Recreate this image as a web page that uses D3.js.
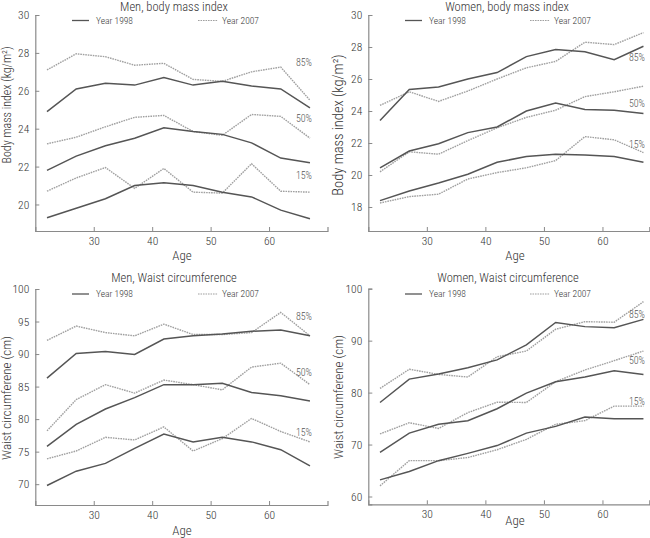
<!DOCTYPE html>
<html>
<head>
<meta charset="utf-8">
<script src="https://cdn.jsdelivr.net/npm/d3@7"></script>
<style>
  html, body { margin: 0; padding: 0; background: #fff; }
  svg { display: block; font-family: Roboto, "Liberation Sans", sans-serif; font-stretch: 80%; font-weight: 300; }
</style>
</head>
<body>
<svg id="chart" width="650" height="538"></svg>
<script>
// ---------- DATA ----------
const ages = [22, 27, 32, 37, 42, 47, 52, 57, 62, 67];
const percentileLabels = ["85%", "50%", "15%"];
const yearLabels = ["Year 1998", "Year 2007"];

// Men, body mass index
const menBmi1998P85 = [24.9, 26.1, 26.4, 26.3, 26.7, 26.3, 26.5, 26.25, 26.1, 25.1];
const menBmi2007P85 = [27.1, 27.95, 27.8, 27.35, 27.45, 26.6, 26.5, 27.0, 27.25, 25.5];
const menBmi1998P50 = [21.8, 22.55, 23.1, 23.5, 24.05, 23.85, 23.7, 23.25, 22.45, 22.2];
const menBmi2007P50 = [23.2, 23.55, 24.1, 24.6, 24.7, 23.85, 23.65, 24.75, 24.65, 23.5];
const menBmi1998P15 = [19.3, 19.8, 20.3, 21.0, 21.15, 21.0, 20.65, 20.4, 19.7, 19.25];
const menBmi2007P15 = [20.7, 21.4, 21.95, 20.85, 21.9, 20.65, 20.6, 22.15, 20.7, 20.65];

// Women, body mass index
const womenBmi1998P85 = [23.4, 25.35, 25.5, 26.0, 26.4, 27.4, 27.85, 27.7, 27.2, 28.05];
const womenBmi2007P85 = [24.35, 25.2, 24.6, 25.25, 26.0, 26.7, 27.1, 28.3, 28.15, 28.9];
const womenBmi1998P50 = [20.45, 21.5, 21.95, 22.65, 23.0, 24.0, 24.5, 24.1, 24.05, 23.85];
const womenBmi2007P50 = [20.2, 21.45, 21.3, 22.15, 22.95, 23.6, 24.05, 24.9, 25.2, 25.55];
const womenBmi1998P15 = [18.4, 19.0, 19.5, 20.05, 20.8, 21.15, 21.3, 21.25, 21.15, 20.8];
const womenBmi2007P15 = [18.25, 18.65, 18.8, 19.75, 20.15, 20.45, 20.9, 22.4, 22.2, 21.4];

// Men, waist circumference
const menWaist1998P85 = [86.3, 90.1, 90.4, 89.95, 92.3, 92.8, 93.1, 93.5, 93.7, 92.8];
const menWaist2007P85 = [92.1, 94.3, 93.3, 92.8, 94.6, 93.0, 93.0, 93.3, 96.4, 92.8];
const menWaist1998P50 = [75.8, 79.2, 81.55, 83.3, 85.3, 85.3, 85.5, 84.1, 83.6, 82.8];
const menWaist2007P50 = [78.2, 83.0, 85.3, 84.0, 86.0, 85.3, 84.5, 88.0, 88.6, 85.3];
const menWaist1998P15 = [69.8, 72.0, 73.2, 75.5, 77.7, 76.5, 77.2, 76.5, 75.3, 72.8];
const menWaist2007P15 = [73.9, 75.1, 77.2, 76.8, 78.8, 75.1, 77.0, 80.1, 78.1, 76.5];

// Women, waist circumference
const womenWaist1998P85 = [78.1, 82.6, 83.6, 84.8, 86.3, 89.2, 93.5, 92.7, 92.5, 94.1];
const womenWaist2007P85 = [80.8, 84.5, 83.5, 83.0, 86.9, 88.0, 92.2, 93.65, 93.55, 97.5];
const womenWaist1998P50 = [68.5, 72.2, 73.9, 74.6, 76.9, 79.9, 82.1, 83.0, 84.2, 83.5];
const womenWaist2007P50 = [72.05, 74.2, 73.1, 76.15, 78.15, 78.1, 82.1, 84.35, 86.15, 88.0];
const womenWaist1998P15 = [63.2, 64.8, 66.9, 68.3, 69.8, 72.2, 73.5, 75.3, 74.95, 74.95];
const womenWaist2007P15 = [62.05, 66.9, 66.9, 67.5, 69.0, 71.0, 73.9, 74.6, 77.4, 77.4];

// Axis tick values
const xTicks = [30, 40, 50, 60];
const bmiMenTicks = [20, 22, 24, 26, 28, 30];
const bmiWomenTicks = [18, 20, 22, 24, 26, 28, 30];
const waistMenTicks = [70, 75, 80, 85, 90, 95, 100];
const waistWomenTicks = [60, 70, 80, 90, 100];

// Value at which each percentile label sits (per panel: 85, 50, 15)
const menBmiLabelAt = [27.5, 24.55, 21.55];
const womenBmiLabelAt = [27.35, 24.45, 21.9];
const menWaistLabelAt = [95.7, 87.2, 78.0];
const womenWaistLabelAt = [95.1, 86.2, 78.2];

const titles = ["Men, body mass index", "Women, body mass index", "Men, Waist circumference", "Women, Waist circumference"];
const yTitles = ["Body mass index (kg/m²)", "Body mass index (kg/m²)", "Waist circumferene (cm)", "Waist circumferene (cm)"];
const xTitle = "Age";

// ---------- LAYOUT ----------
const panels = [
  { title: titles[0], yTitle: yTitles[0], ticks: bmiMenTicks, labelAt: menBmiLabelAt,
    series: [[menBmi1998P85, menBmi2007P85], [menBmi1998P50, menBmi2007P50], [menBmi1998P15, menBmi2007P15]],
    xDom: [20, 70], xRange: [35.3, 327.5], yDom: [18.6, 30], yRange: [231, 15],
    titleX: 174, titleY: 11, legY: 20.5, legX: [72, 198], ytX: 11, ytY: 105, ytSize: 12, ageX: 182, ageY: 260, labX: 312 },
  { title: titles[1], yTitle: yTitles[1], ticks: bmiWomenTicks, labelAt: womenBmiLabelAt,
    series: [[womenBmi1998P85, womenBmi2007P85], [womenBmi1998P50, womenBmi2007P50], [womenBmi1998P15, womenBmi2007P15]],
    xDom: [20, 68], xRange: [368.3, 649.3], yDom: [16.5, 30], yRange: [231, 15],
    titleX: 507, titleY: 11, legY: 20.5, legX: [405, 530], ytX: 343, ytY: 125, ytSize: 14.5, ageX: 515, ageY: 260, labX: 645 },
  { title: titles[2], yTitle: yTitles[2], ticks: waistMenTicks, labelAt: menWaistLabelAt,
    series: [[menWaist1998P85, menWaist2007P85], [menWaist1998P50, menWaist2007P50], [menWaist1998P15, menWaist2007P15]],
    xDom: [20, 70], xRange: [35.3, 327.5], yDom: [66.8, 100], yRange: [505, 289],
    titleX: 174, titleY: 282, legY: 294, legX: [72, 198], ytX: 11, ytY: 398, ytSize: 13, ageX: 182, ageY: 535, labX: 312 },
  { title: titles[3], yTitle: yTitles[3], ticks: waistWomenTicks, labelAt: womenWaistLabelAt,
    series: [[womenWaist1998P85, womenWaist2007P85], [womenWaist1998P50, womenWaist2007P50], [womenWaist1998P15, womenWaist2007P15]],
    xDom: [20, 68], xRange: [368.3, 649.3], yDom: [58.5, 100], yRange: [504.3, 288.7],
    titleX: 508, titleY: 282, legY: 294, legX: [405, 530], ytX: 343, ytY: 397, ytSize: 13, ageX: 515, ageY: 525, labX: 645 }
];

const svg = d3.select("#chart");
const axisColor = "#8a8a8a";
const textColor = "#333333";
const solidColor = "#555555";
const dotColor = "#a0a0a0";

panels.forEach(p => {
  const x = d3.scaleLinear().domain(p.xDom).range(p.xRange);
  const y = d3.scaleLinear().domain(p.yDom).range(p.yRange);
  const g = svg.append("g");

  // axes
  const xAxis = d3.axisBottom(x).tickValues(xTicks).tickSize(-4).tickPadding(6);
  const yAxis = d3.axisLeft(y).tickValues(p.ticks).tickSize(-4).tickPadding(6);
  const gx = g.append("g").attr("transform", `translate(0,${p.yRange[0]})`).call(xAxis);
  const gy = g.append("g").attr("transform", `translate(${p.xRange[0]},0)`).call(yAxis);
  [gx, gy].forEach(a => {
    a.attr("font-family", null).attr("font-size", null);
    a.select(".domain").attr("stroke", axisColor).attr("stroke-width", 1.2);
    a.selectAll(".tick line").attr("stroke", axisColor);
    a.selectAll(".tick text").attr("fill", textColor).attr("font-size", 11.5);
  });

  // lines
  const line = d3.line().x((d, i) => x(ages[i])).y(d => y(d));
  p.series.forEach(pair => {
    g.append("path").datum(pair[1]).attr("d", line).attr("fill", "none")
      .attr("stroke", dotColor).attr("stroke-width", 1.4).attr("stroke-dasharray", "1.6,0.9");
    g.append("path").datum(pair[0]).attr("d", line).attr("fill", "none")
      .attr("stroke", solidColor).attr("stroke-width", 1.5);
  });

  // percentile labels
  p.labelAt.forEach((v, i) => {
    g.append("text").attr("x", p.labX).attr("y", y(v)).attr("dy", "0.35em")
      .attr("text-anchor", "end").attr("font-size", 10).attr("fill", "#555")
      .text(percentileLabels[i]);
  });

  // title
  g.append("text").attr("x", p.titleX).attr("y", p.titleY).attr("text-anchor", "middle")
    .attr("font-size", 12.5).attr("fill", textColor).text(p.title);

  // legend
  yearLabels.forEach((lab, i) => {
    const lx = p.legX[i];
    g.append("line").attr("x1", lx).attr("x2", lx + (i === 0 ? 17 : 20)).attr("y1", p.legY).attr("y2", p.legY)
      .attr("stroke", i === 0 ? solidColor : dotColor).attr("stroke-width", i === 0 ? 1.3 : 1.2)
      .attr("stroke-dasharray", i === 0 ? null : "1.6,0.9");
    g.append("text").attr("x", lx + 24).attr("y", p.legY).attr("dy", "0.35em")
      .attr("font-size", 9.5).attr("fill", textColor).text(lab);
  });

  // axis titles
  g.append("text").attr("transform", `translate(${p.ytX},${p.ytY}) rotate(-90)`)
    .attr("text-anchor", "middle").attr("font-size", p.ytSize).attr("fill", textColor).text(p.yTitle);
  g.append("text").attr("x", p.ageX).attr("y", p.ageY).attr("text-anchor", "middle")
    .attr("font-size", 13).attr("fill", textColor).text(xTitle);
});
</script>
</body>
</html>
